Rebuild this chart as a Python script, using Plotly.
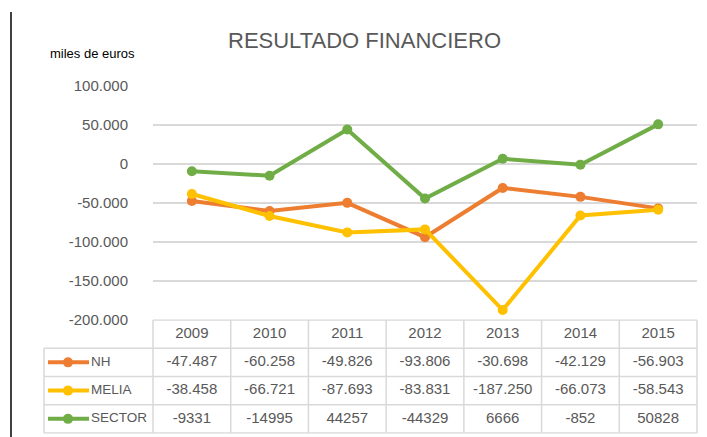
import plotly.graph_objects as go

# ---------------- data ----------------
years = ["2009", "2010", "2011", "2012", "2013", "2014", "2015"]
series_names = ["NH", "MELIA", "SECTOR"]
nh = [-47487, -60258, -49826, -93806, -30698, -42129, -56903]
melia = [-38458, -66721, -87693, -83831, -187250, -66073, -58543]
sector = [-9331, -14995, 44257, -44329, 6666, -852, 50828]
y_ticks = [-200000, -150000, -100000, -50000, 0, 50000, 100000]
colors = ["#ED7D31", "#FFC000", "#70AD47"]

series_values = [nh, melia, sector]
use_thousands_sep = [True, True, False]

# ---------------- geometry (pixels) ----------------
W, H = 707, 437
PLOT_L, PLOT_R = 153, 697
PLOT_T, PLOT_B = 86, 320
TAB_L, TAB_B = 44, 433
n = len(years)
unit = (PLOT_R - PLOT_L) / n          # px per category
leg_w = (PLOT_L - TAB_L) / unit       # legend column width in category units
pad = 0.03
row_h = (TAB_B - PLOT_B) / 4
pad_y = 0.03

def px_x(p):
    return p / W

def px_y(p):
    return (H - p) / H

FONT = "Liberation Sans"
GREY = "#595959"
GRID = "#D9D9D9"

def fmt(v, sep=True):
    s = f"{abs(v):,}".replace(",", ".") if sep else f"{abs(v)}"
    return ("-" if v < 0 else "") + s

fig = go.Figure()

for name, vals, col in zip(series_names, series_values, colors):
    fig.add_trace(go.Scatter(
        x=years, y=vals, mode="lines+markers", name=name,
        line=dict(color=col, width=4),
        marker=dict(color=col, size=10),
        xaxis="x", yaxis="y", showlegend=False, hoverinfo="skip",
        cliponaxis=False,
    ))

idx = list(range(n))
fig.add_trace(go.Scatter(
    x=idx, y=[0.5] * n, mode="text", text=years,
    textfont=dict(family=FONT, size=15, color=GREY),
    xaxis="x2", yaxis="y2", showlegend=False, hoverinfo="skip",
))
for r, (name, vals, col, sep) in enumerate(zip(series_names, series_values, colors, use_thousands_sep)):
    yrow = r + 1.5
    fig.add_trace(go.Scatter(
        x=idx, y=[yrow] * n, mode="text", text=[fmt(v, sep) for v in vals],
        textfont=dict(family=FONT, size=15, color=GREY),
        xaxis="x2", yaxis="y2", showlegend=False, hoverinfo="skip",
    ))
    x0 = -0.5 - leg_w
    fig.add_trace(go.Scatter(
        x=[x0 + 4 / unit, x0 + 45 / unit], y=[yrow, yrow], mode="lines",
        line=dict(color=col, width=4),
        xaxis="x2", yaxis="y2", showlegend=False, hoverinfo="skip",
    ))
    fig.add_trace(go.Scatter(
        x=[x0 + 24 / unit], y=[yrow], mode="markers",
        marker=dict(color=col, size=10),
        xaxis="x2", yaxis="y2", showlegend=False, hoverinfo="skip",
    ))
    fig.add_trace(go.Scatter(
        x=[x0 + 47 / unit], y=[yrow], mode="text", text=[name],
        textposition="middle right",
        textfont=dict(family=FONT, size=13.5, color=GREY),
        xaxis="x2", yaxis="y2", showlegend=False, hoverinfo="skip",
    ))

shapes = []
xl = -0.5 - leg_w
xr = n - 0.5
line_style = dict(color=GRID, width=1.5)
shapes.append(dict(type="line", xref="x2", yref="y2", x0=-0.5, x1=xr, y0=0, y1=0, line=line_style))
for k in range(1, 5):
    shapes.append(dict(type="line", xref="x2", yref="y2", x0=xl, x1=xr, y0=k, y1=k, line=line_style))
shapes.append(dict(type="line", xref="x2", yref="y2", x0=xl, x1=xl, y0=1, y1=4, line=line_style))
for k in range(n + 1):
    shapes.append(dict(type="line", xref="x2", yref="y2", x0=k - 0.5, x1=k - 0.5, y0=0, y1=4, line=line_style))
shapes.append(dict(type="line", xref="paper", yref="paper", x0=px_x(11), x1=px_x(11),
                   y0=0, y1=px_y(12), line=dict(color="black", width=1.5)))

fig.update_layout(
    width=W, height=H,
    autosize=False,
    margin=dict(l=0, r=0, t=0, b=0, pad=0, autoexpand=False),
    paper_bgcolor="white", plot_bgcolor="rgba(0,0,0,0)",
    separators=",.",
    showlegend=False,
    font=dict(family=FONT, color=GREY),
    xaxis=dict(domain=[px_x(PLOT_L), px_x(PLOT_R)], type="category",
               range=[-0.5, n - 0.5], showticklabels=False, showgrid=False,
               zeroline=False, showline=False, fixedrange=True, automargin=False),
    yaxis=dict(domain=[px_y(PLOT_B), px_y(PLOT_T)], range=[-200000, 100000],
               tickvals=y_ticks, ticktext=[fmt(v) for v in y_ticks],
               showgrid=True, gridcolor=GRID,
               gridwidth=1.5, zeroline=False, showline=False, ticks="",
               ticklabelstandoff=24, ticklabeloverflow="allow", automargin=False,
               tickfont=dict(family=FONT, size=15, color=GREY), fixedrange=True),
    xaxis2=dict(domain=[px_x(TAB_L - pad * unit), px_x(PLOT_R + pad * unit)],
                range=[-0.5 - leg_w - pad, n - 0.5 + pad], visible=False,
                anchor="y2", fixedrange=True, automargin=False),
    yaxis2=dict(domain=[px_y(TAB_B + pad_y * row_h), px_y(PLOT_B - pad_y * row_h)],
                range=[4 + pad_y, -pad_y], visible=False, anchor="x2", fixedrange=True,
                automargin=False),
    shapes=shapes,
    annotations=[
        dict(text="RESULTADO FINANCIERO", x=px_x(364), y=px_y(40), xref="paper", yref="paper",
             xanchor="center", yanchor="middle", showarrow=False,
             font=dict(family=FONT, size=22, color=GREY)),
        dict(text="miles de euros", x=px_x(92), y=px_y(53), xref="paper", yref="paper",
             xanchor="center", yanchor="middle", showarrow=False,
             font=dict(family=FONT, size=13, color="black")),
    ],
)

fig.write_html(
    "out.html",
    config={"responsive": False, "displayModeBar": False},
    post_script="document.body.style.margin='0';document.body.style.overflow='hidden';",
)
